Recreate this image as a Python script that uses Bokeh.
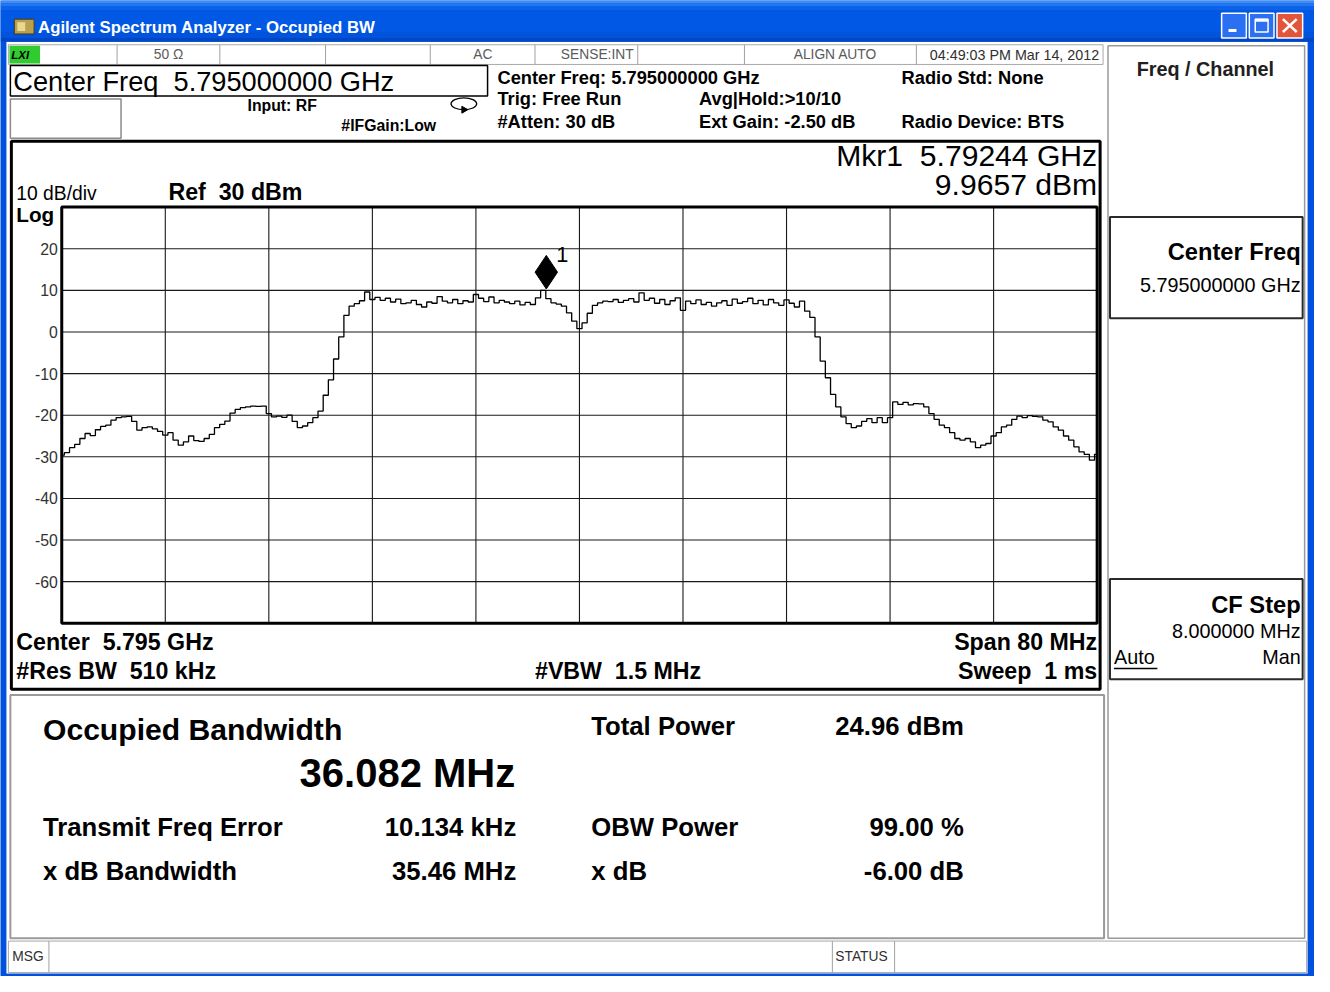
import numpy as np
from bokeh.plotting import figure
from bokeh.models import Range1d
from bokeh.core.properties import value
from bokeh.embed import file_html
from bokeh.resources import INLINE

# ---------------- data ----------------
center_freq_ghz = 5.795
span_mhz = 80.0
ref_level_dbm = 30.0
scale_db_per_div = 10.0
num_hdiv = 10
num_vdiv = 10

trace_dbm = [
    -29.6, -29.0, -27.8, -27.0, -25.6, -24.4, -24.9, -23.5, -22.7, -22.4,
    -21.2, -20.6, -20.4, -20.3, -21.5, -23.6, -23.0, -22.8, -23.3, -23.9,
    -24.8, -24.2, -26.0, -27.2, -26.4, -25.0, -26.1, -26.3, -25.6, -24.6,
    -23.0, -22.2, -21.4, -19.5, -18.6, -18.2, -18.0, -17.8, -17.9, -17.8,
    -19.6, -20.4, -20.2, -20.5, -20.0, -21.5, -23.0, -22.6, -21.8, -20.6,
    -19.0, -15.2, -11.5, -6.5, -1.2, 4.0, 6.2, 6.8, 7.5, 9.6,
    7.8, 8.3, 7.6, 8.1, 7.2, 7.9, 6.8, 7.0, 7.6, 6.6,
    6.0, 7.2, 6.9, 8.5, 7.4, 7.0, 7.8, 6.8, 7.5, 7.2,
    9.0, 8.1, 7.3, 8.4, 7.0, 7.6, 7.2, 6.8, 7.4, 6.5,
    7.1, 6.6, 8.2, 9.97, 8.0, 7.0, 6.7, 6.2, 4.6, 2.6,
    0.8, 2.2, 4.5, 6.4, 7.0, 7.4, 7.3, 7.8, 7.1, 7.6,
    8.0, 7.2, 9.4, 7.6, 8.1, 6.9, 7.8, 6.6, 7.5, 8.2,
    5.2, 7.4, 6.8, 7.7, 6.6, 7.1, 6.2, 7.0, 7.5, 6.4,
    7.9, 6.9, 7.3, 8.1, 6.8, 7.6, 6.5, 7.8, 7.0, 6.4,
    7.7, 6.9, 6.0, 7.4, 5.0, 3.5, -1.2, -7.0, -11.0, -15.0,
    -18.0, -20.4, -22.0, -23.0, -22.6, -21.5, -20.8, -21.8, -20.6, -21.8,
    -20.6, -16.8, -17.4, -16.9, -17.5, -17.2, -17.3, -18.0, -19.6, -21.0,
    -22.4, -23.0, -24.2, -25.6, -26.0, -25.6, -26.4, -27.8, -27.2, -26.8,
    -25.0, -24.2, -22.8, -22.4, -21.0, -20.2, -20.6, -20.1, -20.3, -20.4,
    -21.2, -21.6, -22.8, -23.6, -25.0, -26.0, -27.6, -28.8, -29.4, -30.8,
    -29.4,
]
y_tick_values = [20, 10, 0, -10, -20, -30, -40, -50, -60]
y_tick_labels = ["20", "10", "0", "-10", "-20", "-30", "-40", "-50", "-60"]
marker_freq_ghz = 5.79244
marker_level_dbm = 9.9657

occupied_bw_text = "36.082 MHz"
left_result_labels = ["Transmit Freq Error", "x dB Bandwidth"]
left_result_values = ["10.134 kHz", "35.46 MHz"]
right_result_labels = ["Total Power", "OBW Power", "x dB"]
right_result_values = ["24.96 dBm", "99.00 %", "-6.00 dB"]

# ---------------- layout (reference pixel space) ----------------
W, H = 1330, 992
PW, PH = 1314, 976
FS = PW / W
GL, GR, GT, GB = 62, 1110, 210, 633   # graticule box

f_start = center_freq_ghz - span_mhz / 2000.0
f_stop = center_freq_ghz + span_mhz / 2000.0
db_top = ref_level_dbm
db_bot = ref_level_dbm - num_vdiv * scale_db_per_div
kx = (f_stop - f_start) / (GR - GL)
ky = (db_top - db_bot) / (GB - GT)

p = figure(width=PW, height=PH, x_range=Range1d(0, W), y_range=Range1d(H, 0),
           toolbar_location=None, output_backend="svg", min_border=0,
           x_axis_type=None, y_axis_type=None, title=None)
p.outline_line_color = None
p.background_fill_color = "#0052DE"
p.border_fill_color = "#0052DE"
p.extra_x_ranges = {"freq": Range1d(f_start - GL * kx, f_stop + (W - GR) * kx)}
p.extra_y_ranges = {"dbm": Range1d(db_bot - (H - GB) * ky, db_top + GT * ky)}

FONT = "Liberation Sans"


def txt(x, y, s, size, bold=False, align="left", color="#000000", italic=False, font=FONT):
    style = "bold" if bold else "normal"
    if italic:
        style = "bold italic" if bold else "italic"
    p.text(x=[x], y=[y], text=[s], text_font=value(font),
           text_font_size=f"{size * FS:.1f}px", text_font_style=style,
           text_align=align, text_baseline="middle", text_color=color)


def box(l, r, t, b, fill="white", line=None, lw=1.0):
    p.quad(left=[l], right=[r], top=[t], bottom=[b], fill_color=fill,
           line_color=line, line_width=lw)


def hline(x0, x1, y, color="#000000", lw=1.0):
    p.segment(x0=[x0], x1=[x1], y0=[y], y1=[y], line_color=color, line_width=lw)


def vline(x, y0, y1, color="#000000", lw=1.0):
    p.segment(x0=[x], x1=[x], y0=[y0], y1=[y1], line_color=color, line_width=lw)


# ---- window chrome ----
box(6, 1323, 42, 989, fill="#FFFFFF")
bands = [(0, 3, "#3D8EF6"), (3, 6, "#2377F0"), (6, 10, "#0A63E8"), (10, 32, "#0058E4"),
         (32, 38, "#0053DA"), (38, 42, "#0047C6")]
for t0, t1, c in bands:
    box(0, W, t0, t1, fill=c)
# title icon
box(14, 34, 19, 34, fill="#B8A050", line="#4A3A10", lw=1)
box(17, 25, 22, 31, fill="#E8D890", line=None)
txt(38, 27, "Agilent Spectrum Analyzer - Occupied BW", 17, bold=True, color="#FFFFFF")
# window buttons
box(1236, 1261, 13, 38, fill="#2B6FF2", line="#FFFFFF", lw=1.5)
box(1243, 1251, 29, 32, fill="#FFFFFF")
box(1264, 1289, 13, 38, fill="#2B6FF2", line="#FFFFFF", lw=1.5)
box(1270, 1283, 19, 32, fill=None, line="#FFFFFF", lw=1.5)
hline(1270, 1283, 20, color="#FFFFFF", lw=3)
box(1292, 1318, 13, 38, fill="#E2553A", line="#FFFFFF", lw=1.5)
p.segment(x0=[1298, 1298], x1=[1312, 1312], y0=[19, 32], y1=[32, 19],
          line_color="#FFFFFF", line_width=2.5)

# ---- status row 1 ----
box(8, 1116, 45, 65, fill="#FFFFFF", line="#A8A8A8", lw=1)
for sx in [118, 222, 329, 435, 541, 645, 753, 927]:
    vline(sx, 45, 65, color="#A0A0A0")
box(9, 40, 46, 64, fill="#2FCB2F")
txt(11, 55, "LXI", 11.5, bold=True, italic=True)
txt(170, 55, "50 \u03a9", 14, color="#5A5A5A", align="center")
txt(498, 55, "AC", 14, color="#5A5A5A", align="right")
txt(604, 55, "SENSE:INT", 14, color="#5A5A5A", align="center")
txt(845, 55, "ALIGN AUTO", 14, color="#5A5A5A", align="center")
txt(1112, 55, "04:49:03 PM Mar 14, 2012", 14.5, color="#303030", align="right")

# ---- settings area ----
box(10, 493, 66, 97, fill="#FFFFFF", line="#000000", lw=1.5)
txt(13, 82, "Center Freq\u00a0\u00a05.795000000 GHz", 27.5)
box(10, 122, 100, 140, fill="#FFFFFF", line="#8A8A8A", lw=1.5)
txt(250, 107, "Input: RF", 16, bold=True)
txt(345, 127, "#IFGain:Low", 16, bold=True)
p.ellipse(x=[469], y=[105], width=[26], height=[12], fill_color=None,
          line_color="#000000", line_width=1.3)
p.scatter(x=[469], y=[111], marker="triangle", size=7 * FS, angle=-np.pi / 2,
          color="#000000")
txt(503, 78, "Center Freq: 5.795000000 GHz", 18.5, bold=True)
txt(503, 100, "Trig: Free Run", 18.5, bold=True)
txt(503, 123, "#Atten: 30 dB", 18.5, bold=True)
txt(707, 100, "Avg|Hold:>10/10", 18.5, bold=True)
txt(707, 123, "Ext Gain: -2.50 dB", 18.5, bold=True)
txt(912, 78, "Radio Std: None", 18.5, bold=True)
txt(912, 123, "Radio Device: BTS", 18.5, bold=True)

# ---- plot panel ----
box(11, 1113, 143, 700, fill="#FFFFFF", line="#000000", lw=3)
txt(1110, 158, "Mkr1\u00a0\u00a05.79244 GHz", 30.5, align="right")
txt(1110, 187, "9.9657 dBm", 30.5, align="right")
txt(16, 196, "10 dB/div", 19.5)
txt(170, 195, "Ref\u00a0\u00a030 dBm", 23.5, bold=True)
txt(16, 218, "Log", 21, bold=True)
txt(16, 652, "Center\u00a0\u00a05.795 GHz", 23.5, bold=True)
txt(16, 681, "#Res BW\u00a0\u00a0510 kHz", 23.5, bold=True)
txt(541, 681, "#VBW\u00a0\u00a01.5 MHz", 23.5, bold=True)
txt(1110, 652, "Span 80 MHz", 23.5, bold=True, align="right")
txt(1110, 681, "Sweep\u00a0\u00a01 ms", 23.5, bold=True, align="right")

# graticule (through the frequency / dBm scales)
xs_grid = list(np.linspace(f_start, f_stop, num_hdiv + 1)[1:-1])
ys_grid = [db_bot + j * scale_db_per_div for j in range(1, num_vdiv)]
p.segment(x0=xs_grid, x1=xs_grid, y0=[db_bot] * len(xs_grid), y1=[db_top] * len(xs_grid),
          line_color="#1A1A1A", line_width=1.1, x_range_name="freq", y_range_name="dbm")
p.segment(x0=[f_start] * len(ys_grid), x1=[f_stop] * len(ys_grid), y0=ys_grid, y1=ys_grid,
          line_color="#1A1A1A", line_width=1.1, x_range_name="freq", y_range_name="dbm")
p.quad(left=[f_start], right=[f_stop], top=[db_top], bottom=[db_bot], fill_color=None,
       line_color="#000000", line_width=3, x_range_name="freq", y_range_name="dbm")
p.text(x=[58] * len(y_tick_values), y=y_tick_values, text=y_tick_labels,
       text_font=value(FONT), text_font_size=f"{16 * FS:.1f}px", text_align="right",
       text_baseline="middle", text_color="#333333", y_range_name="dbm")

freqs = np.linspace(f_start, f_stop, len(trace_dbm))
p.step(x=freqs, y=trace_dbm, mode="center", line_color="#000000", line_width=1.3,
       x_range_name="freq", y_range_name="dbm")

# marker
p.scatter(x=[marker_freq_ghz], y=[marker_level_dbm + 4.4], marker="diamond", size=34 * FS,
          fill_color="#000000", line_color="#000000", x_range_name="freq", y_range_name="dbm")
p.text(x=[marker_freq_ghz], y=[marker_level_dbm], text=["1"], x_offset=10, y_offset=-36,
       text_font=value(FONT), text_font_size=f"{22 * FS:.1f}px", text_baseline="middle",
       text_color="#000000", x_range_name="freq", y_range_name="dbm")

# ---- results panel ----
box(10, 1117, 706, 953, fill="#FFFFFF", line="#9A9A9A", lw=2)
txt(43, 741, "Occupied Bandwidth", 30.5, bold=True)
txt(521, 785, occupied_bw_text, 40.5, bold=True, align="right")
for i, (lab, val) in enumerate(zip(left_result_labels, left_result_values)):
    yy = [840, 885][i]
    txt(43, yy, lab, 26, bold=True)
    txt(522, yy, val, 26, bold=True, align="right")
for i, (lab, val) in enumerate(zip(right_result_labels, right_result_values)):
    yy = [737, 840, 885][i]
    txt(598, yy, lab, 26, bold=True)
    txt(975, yy, val, 26, bold=True, align="right")

# ---- message bar ----
box(8, 1322, 956, 988, fill="#FFFFFF", line="#A8A8A8", lw=1)
vline(49, 956, 988, color="#A0A0A0")
vline(842, 956, 988, color="#A0A0A0")
vline(905, 956, 988, color="#A0A0A0")
txt(12, 972, "MSG", 14, color="#303030")
txt(845, 972, "STATUS", 14, color="#303030")

# ---- softkey panel ----
box(1121, 1320, 46, 953, fill="#FFFFFF", line="#9A9A9A", lw=1.5)
txt(1150, 70, "Freq / Channel", 20, bold=True, color="#202020")
box(1123, 1318, 220, 323, fill="#FFFFFF", line="#2A2A2A", lw=2)
txt(1316, 256, "Center Freq", 24, bold=True, align="right")
txt(1316, 289, "5.795000000 GHz", 20, align="right")
box(1123, 1318, 588, 690, fill="#FFFFFF", line="#2A2A2A", lw=2)
txt(1316, 614, "CF Step", 24, bold=True, align="right")
txt(1316, 641, "8.000000 MHz", 20, align="right")
txt(1127, 667, "Auto", 20)
hline(1127, 1171, 679, lw=1.5)
txt(1316, 667, "Man", 20, align="right")

open("out.html", "w").write(file_html(p, INLINE))
